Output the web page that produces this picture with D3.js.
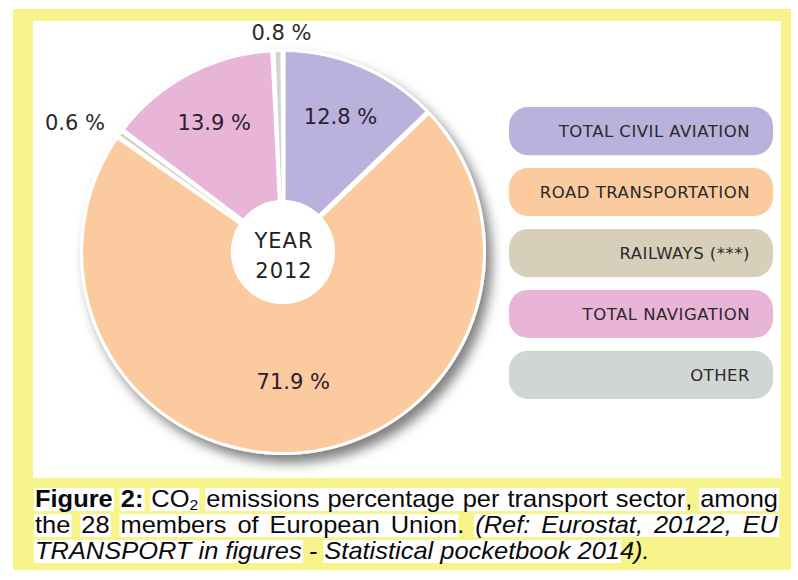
<!DOCTYPE html>
<html>
<head>
<meta charset="utf-8">
<script src="https://cdn.jsdelivr.net/npm/d3@7"></script>
<style>
  body { margin: 0; background: #ffffff; }
  svg { display: block; }
</style>
</head>
<body>
<svg id="chart" width="798" height="580"></svg>
<script>
// ---- data ----
const categories = ["TOTAL CIVIL AVIATION", "ROAD TRANSPORTATION", "RAILWAYS (***)", "TOTAL NAVIGATION", "OTHER"];
const values = [12.8, 71.9, 0.6, 13.9, 0.8];
const valueLabels = ["12.8 %", "71.9 %", "0.6 %", "13.9 %", "0.8 %"];
const colors = ["#bab1dc", "#fbca9f", "#d8cfbb", "#e8b4d8", "#d2d5d5"];
const centerLines = ["YEAR", "2012"];

// caption runs: [text, style, highlightGroup]
const captionLines = [
  [["Figure","b",1],[" ","b",0],["2:","b",2],[" ","n",0],["CO","n",3],["2","s",3],[" ","n",0],
   ["emissions percentage per transport sector","n",4],[", ","n",0],["among","n",5]],
  [["the","n",1],[" ","n",0],["28","n",2],[" ","n",0],["members of European Union","n",3],[". ","n",0],
   ["(Ref: Eurostat, 20122, EU","i",4]],
  [["TRANSPORT in figures","i",1],[" - ","i",0],["Statistical pocketbook 201","i",2],["4).","i",0]]
];

const svg = d3.select("#chart");
const defs = svg.append("defs");
const f = defs.append("filter").attr("id","shadow").attr("x","-20%").attr("y","-20%").attr("width","140%").attr("height","140%");
f.append("feDropShadow").attr("dx",6).attr("dy",8).attr("stdDeviation",6)
  .attr("flood-color","#000").attr("flood-opacity",0.5);

// frame
svg.append("rect").attr("x",13).attr("y",9).attr("width",778).attr("height",561).attr("fill","#f8f48c");
svg.append("rect").attr("x",33).attr("y",21).attr("width",748).attr("height",457).attr("fill","#ffffff");

// ---- pie ----
const cx = 283, cy = 252, R = 200, r0 = 52;
const g = svg.append("g").attr("transform",`translate(${cx},${cy})`);
g.append("circle").attr("r",R+3).attr("fill","#ffffff").attr("filter","url(#shadow)");

const pie = d3.pie().value(d => d.v).sort(null).startAngle(0).endAngle(2*Math.PI);
const data = categories.map((c,i) => ({c, v: values[i], lab: valueLabels[i], col: colors[i]}));
const arcs = pie(data);
const arc = d3.arc().innerRadius(r0).outerRadius(R).padAngle(0.026).padRadius(R);

g.selectAll("path.slice").data(arcs).join("path")
  .attr("class","slice").attr("d",arc).attr("fill",d => d.data.col);

g.append("circle").attr("r",r0).attr("fill","#ffffff");

g.selectAll("text.center").data(centerLines).join("text")
  .attr("class","center")
  .attr("x",1).attr("y",(d,i) => i === 0 ? -4 : 26)
  .attr("text-anchor","middle")
  .attr("font-family","DejaVu Sans, sans-serif")
  .attr("font-size",21).attr("letter-spacing",1)
  .attr("fill","#222222").text(d => d);

// value labels
function labelPos(d) {
  const a = (d.startAngle + d.endAngle)/2;
  let rr;
  if (d.data.v < 2) rr = 220; else if (d.data.v > 50) rr = 130; else rr = 147;
  return [rr*Math.sin(a), -rr*Math.cos(a), a];
}
g.selectAll("text.val").data(arcs).join("text")
  .attr("class","val")
  .attr("x",d => labelPos(d)[0] + (d.data.v < 2 && Math.sin(labelPos(d)[2]) > -0.3 ? 4 : 0))
  .attr("y",d => labelPos(d)[1])
  .attr("dy","0.36em")
  .attr("text-anchor",d => (d.data.v < 2 && Math.sin(labelPos(d)[2]) < -0.3) ? "end" : "middle")
  .attr("font-family","DejaVu Sans, sans-serif").attr("font-size",21)
  .attr("fill",d => d.data.v < 2 ? "#2a2a2a" : "#2a2030")
  .text(d => d.data.lab);

// ---- legend ----
const ly = d3.scaleBand().domain(categories).range([107, 399]).paddingInner(0.21).paddingOuter(0);
const lg = svg.append("g");
lg.selectAll("rect").data(data).join("rect")
  .attr("x",509).attr("width",264)
  .attr("y",d => ly(d.c)).attr("height",ly.bandwidth())
  .attr("rx",19).attr("ry",19).attr("fill",d => d.col);
lg.selectAll("text").data(data).join("text")
  .attr("x",750).attr("y",d => ly(d.c) + ly.bandwidth()/2)
  .attr("dy","0.36em").attr("text-anchor","end")
  .attr("font-family","DejaVu Sans, sans-serif").attr("font-size",16.5).attr("letter-spacing",0.5)
  .attr("fill","#2a2a2a").text(d => d.c);

// ---- caption ----
const capX = 35, capW = 743, sx = 1.06, fs = 24;
const baselines = [507, 533, 559];
const cap = svg.append("g").attr("transform",`translate(${capX},0) scale(${sx},1)`);
const meas = svg.append("text").attr("font-family","Liberation Sans, Arial, sans-serif").attr("font-size",fs)
  .attr("visibility","hidden").style("white-space","pre");
function styleOf(s, sel) {
  sel.attr("font-weight", s === "b" ? "bold" : "normal")
     .attr("font-style", s === "i" ? "italic" : "normal")
     .attr("font-size", s === "s" ? fs*0.62 : fs);
}
function w(t, s) { styleOf(s, meas); meas.text(t); return meas.node().getComputedTextLength(); }
function spaceW(s) { return w("a a", s) - w("aa", s); }
const hlLayer = cap.append("g"), txtLayer = cap.append("g");
captionLines.forEach((line, li) => {
  const by = baselines[li];
  const toks = [];
  line.forEach(([t,s,grp]) => {
    t.split(/( )/).filter(x => x.length).forEach(x => toks.push({t:x, s, grp, sp: x === " "}));
  });
  toks.forEach(k => k.w = k.sp ? spaceW(k.s) : w(k.t, k.s));
  const nat = d3.sum(toks, k => k.w);
  const nsp = toks.filter(k => k.sp).length;
  const target = capW / sx;
  const extra = (li < captionLines.length - 1 && nsp > 0) ? (target - nat)/nsp : 0;
  let x = 0;
  toks.forEach(k => { k.x = x; x += k.w + (k.sp ? extra : 0); });
  const groups = d3.groups(toks.filter(k => k.grp > 0), k => k.grp);
  groups.forEach(([gid, ks]) => {
    const x0 = d3.min(ks, k => k.x);
    const nonsp = ks.filter(k => !k.sp);
    const x1 = d3.max(nonsp, k => k.x + k.w);
    hlLayer.append("rect").attr("x",x0-1).attr("y",by-19).attr("width",x1-x0+2).attr("height",23).attr("fill","#ffffff");
  });
  let prev = null;
  toks.filter(k => !k.sp).forEach(k => {
    if (k.s === "s" && prev) {
      const ts = prev.append("tspan").attr("dy",3).text(k.t);
      styleOf(k.s, ts);
      return;
    }
    const t = txtLayer.append("text").attr("x",k.x).attr("y",by)
      .attr("font-family","Liberation Sans, Arial, sans-serif").attr("fill","#0a0a0a").text(k.t);
    styleOf(k.s, t);
    prev = t;
  });
});
meas.remove();
</script>
</body>
</html>
